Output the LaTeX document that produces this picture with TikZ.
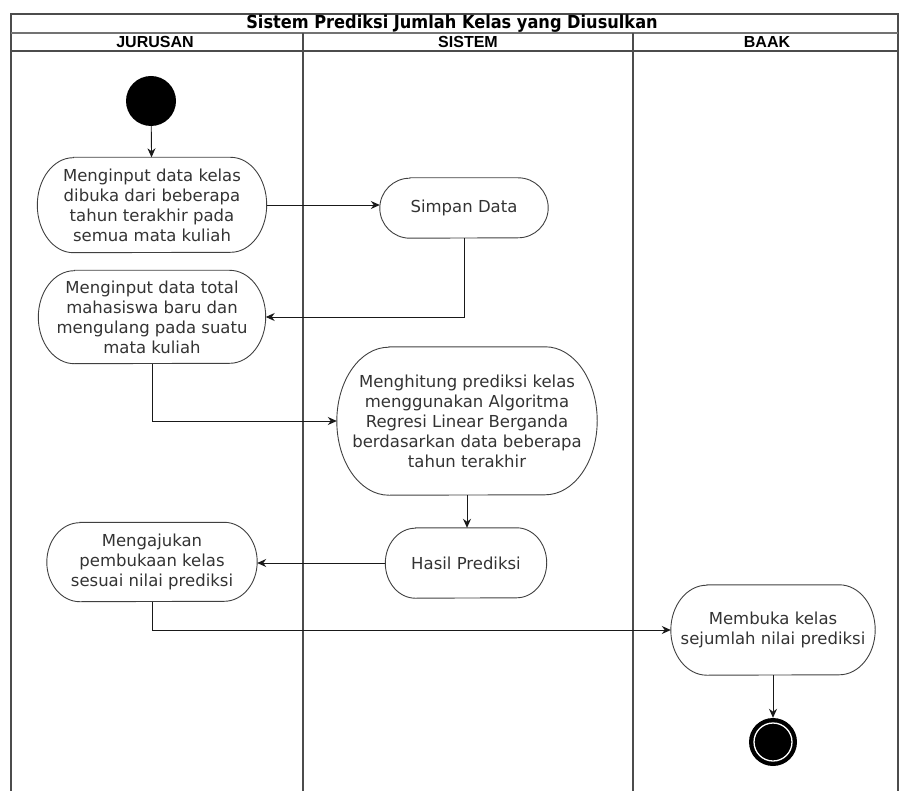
\documentclass[tikz,border=0pt]{standalone}
\usepackage{fontspec}
\setmainfont{DejaVu Sans}
\newfontfamily\titlefont{DejaVu Sans Condensed}
\newfontfamily\headfont{Liberation Sans}
\usetikzlibrary{arrows.meta,calc}
\tikzset{
  act/.style={inner sep=0pt, text=black!80, align=center,
    font=\fontsize{16.5}{20}\selectfont},
  actline/.style={draw=black!75, line width=0.9pt},
  arr/.style={-{Stealth[length=9pt,width=8pt]}, line width=0.9pt, draw=black!90},
  lane/.style={draw=black!70, line width=1.3pt},
  hdr/.style={font=\headfont\bfseries\fontsize{16}{18}\selectfont, inner sep=0pt}
}
% name, x radius, y radius (half height)
\newcommand\stadiumline[3]{%
  \draw[actline] ([xshift=#2]#1.north west) -- ([xshift=-#2]#1.north east)
    arc[start angle=90, end angle=-90, x radius=#2, y radius=#3]
    -- ([xshift=#2]#1.south west)
    arc[start angle=270, end angle=90, x radius=#2, y radius=#3] -- cycle;}
\begin{document}
\begin{tikzpicture}[x=1pt,y=-1pt]
\useasboundingbox (0,0) rectangle (901,791);
% swimlane frame
\draw[lane] (11,791) -- (11,14) -- (898,14) -- (898,791);
\draw[draw=black!55, line width=2pt] (11,33) -- (898,33);
\draw[lane] (11,51) -- (898,51);
\draw[lane] (303,33) -- (303,791);
\draw[lane] (633,33) -- (633,791);
\node[inner sep=0pt, font=\titlefont\bfseries\fontsize{18}{20}\selectfont] (title) at (452,24) {Sistem Prediksi Jumlah Kelas yang Diusulkan};
\node[hdr] (h1) at (155,42) {JURUSAN};
\node[hdr] (h2) at (468,42) {SISTEM};
\node[hdr] (h3) at (767,42) {BAAK};
% nodes
\node[circle, fill=black, minimum size=50pt, inner sep=0pt] (st) at (151,101) {};
\node[act, minimum width=229pt, minimum height=95pt] (A) at (152,205)
  {Menginput data kelas\\dibuka dari beberapa\\tahun terakhir pada\\semua mata kuliah};
\stadiumline{A}{36pt}{47.5pt}
\node[act, minimum width=168pt, minimum height=60pt] (S) at (464,208) {Simpan Data};
\stadiumline{S}{30pt}{30pt}
\node[act, minimum width=227pt, minimum height=93pt] (B) at (152,317)
  {Menginput data total\\mahasiswa baru dan\\mengulang pada suatu\\mata kuliah};
\stadiumline{B}{36pt}{46.5pt}
\node[act, minimum width=260pt, minimum height=148pt] (C) at (467,421)
  {Menghitung prediksi kelas\\menggunakan Algoritma\\Regresi Linear Berganda\\berdasarkan data beberapa\\tahun terakhir};
\stadiumline{C}{52pt}{74pt}
\node[act, minimum width=161pt, minimum height=70pt] (H) at (466,563) {Hasil Prediksi};
\stadiumline{H}{30pt}{35pt}
\node[act, minimum width=210pt, minimum height=79pt] (M) at (152,562)
  {Mengajukan\\pembukaan kelas\\sesuai nilai prediksi};
\stadiumline{M}{33pt}{39.5pt}
\node[act, minimum width=204pt, minimum height=90pt] (K) at (773,630)
  {Membuka kelas\\sejumlah nilai prediksi};
\stadiumline{K}{36pt}{45pt}
\node[circle, fill=black, minimum size=48pt, inner sep=0pt] (en) at (773,742) {};
\draw[white, line width=1.3pt] (en.center) circle[radius=19pt];
% connectors
\draw[arr] (st) -- (A);
\draw[arr] (A.east) -- (A.east -| S.west);
\draw[arr] (S.south) |- (B.east);
\draw[arr] (B.south) |- (C.west);
\draw[arr] (C.south) -- (C.south |- H.north);
\draw[arr] (H.west) -- (H.west -| M.east);
\draw[arr] (M.south) |- (K.west);
\draw[arr] (K.south) -- (en.north);
\end{tikzpicture}
\end{document}
